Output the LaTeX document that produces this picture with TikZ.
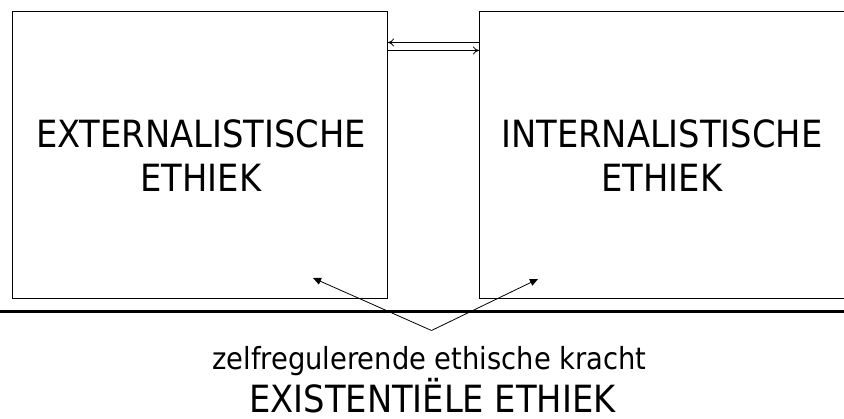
\documentclass[tikz,border=0pt]{standalone}
\usepackage{fontspec}
\setmainfont{DejaVu Sans Condensed}
\usetikzlibrary{arrows.meta}
\begin{document}
\begin{tikzpicture}[x=1pt,y=-1pt,
  panel/.style={draw=black,line width=1pt,minimum height=287pt,inner sep=0pt,anchor=north west},
  big/.style={font=\fontsize{37.5}{44}\selectfont,align=center,inner sep=0pt},
  openarrow/.style={-{To[length=6pt,width=8pt]},line width=0.8pt},
  filledarrow/.style={-{Triangle[length=8pt,width=7pt]},line width=0.8pt}]
\useasboundingbox (0,0) rectangle (844,419);
\clip (0,0) rectangle (844,419);
\node[panel,minimum width=375pt] (L) at (12,11) {};
\node[panel,minimum width=400pt] (R) at (479,11) {};
\node[big] (Lt) at (201,155.5) {EXTERNALISTISCHE\\ETHIEK};
\node[big] (Rt) at (662,155.5) {INTERNALISTISCHE\\ETHIEK};
\coordinate (a1) at (L.north east |- 0,42.5);
\coordinate (b1) at (R.north west |- 0,42.5);
\coordinate (a2) at (L.north east |- 0,50.5);
\coordinate (b2) at (R.north west |- 0,50.5);
\draw[openarrow] (b1) -- (a1);
\draw[openarrow] (a2) -- (b2);
\coordinate (sl) at (0,311.5);
\coordinate (sr) at (844,311.5);
\draw[line width=2.2pt] (sl) -- (sr);
\coordinate (o) at (431.5,330.5);
\coordinate (tl) at (313,278);
\coordinate (tr) at (538,279);
\draw[filledarrow] (o) -- (tl);
\draw[filledarrow] (o) -- (tr);
\node[font=\fontsize{30.4}{36}\selectfont,inner sep=0pt,anchor=base] (s1) at (429.5,369.5) {zelfregulerende ethische kracht};
\node[font=\fontsize{37.5}{44}\selectfont,inner sep=0pt,anchor=base] (s2) at (432.5,413) {EXISTENTIËLE ETHIEK};
\end{tikzpicture}
\end{document}
